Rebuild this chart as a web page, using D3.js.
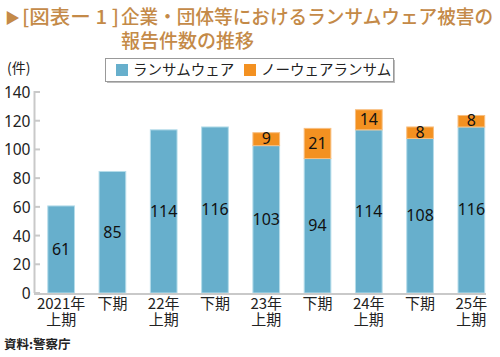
<!DOCTYPE html>
<html><head><meta charset="utf-8">
<script src="https://cdn.jsdelivr.net/npm/d3@7"></script>
<style>
body{margin:0;background:#fff;}
svg{display:block;font-family:"Noto Sans CJK JP","Noto Sans",sans-serif;}
</style></head>
<body><svg id="c" width="500" height="357"></svg>
<script>
const categories = [["2021年","上期"],["下期"],["22年","上期"],["下期"],["23年","上期"],["下期"],["24年","上期"],["下期"],["25年","上期"]];
const ransomware = [61,85,114,116,103,94,114,108,116];
const noware = [0,0,0,0,9,21,14,8,8];
const yTicks = [0,20,40,60,80,100,120,140];
const seriesNames = ["ランサムウェア","ノーウェアランサム"];
const colors = ["#67afcc","#f39121"];
const strokes = ["#b5dcea","#f8bf80"];

const svg = d3.select("#c");
const titleColor = "#c48a48";

// Title
svg.append("text").attr("x",5).attr("y",23).attr("fill",titleColor).attr("font-size",15).text("▶");
svg.append("text").attr("x",22).attr("y",24).attr("fill",titleColor).attr("font-size",19).attr("font-weight",500)
  .attr("textLength",97).attr("lengthAdjust","spacingAndGlyphs")
  .text("[図表ー 1 ]");
svg.append("text").attr("x",121).attr("y",24).attr("fill",titleColor).attr("font-size",19).attr("font-weight",500)
  .attr("textLength",372).attr("lengthAdjust","spacingAndGlyphs")
  .text("企業・団体等におけるランサムウェア被害の");
svg.append("text").attr("x",121).attr("y",48).attr("fill",titleColor).attr("font-size",19).attr("font-weight",500)
  .text("報告件数の推移");

const y = d3.scaleLinear().domain([0,140]).range([293,92]);
const x = d3.scaleBand().domain(d3.range(categories.length)).range([35.5,497]).paddingInner(0.46).paddingOuter(0.23);

// y axis
const yAxis = d3.axisLeft(y).tickValues(yTicks).tickSize(0).tickPadding(4);
const ga = svg.append("g").attr("transform","translate(34.5,0)").call(yAxis);
ga.select(".domain").remove();
ga.selectAll("text").attr("font-size",15.5).attr("fill","#222").attr("font-family","'Noto Sans',sans-serif").attr("dy","0.35em");
svg.append("line").attr("x1",34.5).attr("x2",34.5).attr("y1",y(140)-1).attr("y2",y(0)).attr("stroke","#c9c9c9").attr("stroke-width",2);
svg.selectAll(".tk").data(yTicks).enter().append("line")
  .attr("x1",34).attr("x2",40).attr("y1",d=>y(d)).attr("y2",d=>y(d)).attr("stroke","#c9c9c9").attr("stroke-width",2);

svg.append("text").attr("x",7).attr("y",73).attr("font-size",14).attr("fill","#222").text("(件)");

// bars
const g = svg.append("g");
categories.forEach((c,i)=>{
  const x0 = x(i), w = x.bandwidth();
  g.append("rect").attr("x",x0+0.5).attr("y",y(ransomware[i])+0.5).attr("width",w-1).attr("height",y(0)-y(ransomware[i])-0.5)
    .attr("fill",colors[0]).attr("stroke",strokes[0]).attr("stroke-width",1);
  if(noware[i]>0){
    const top = ransomware[i]+noware[i];
    g.append("rect").attr("x",x0+0.5).attr("y",y(top)+0.5).attr("width",w-1).attr("height",y(ransomware[i])-y(top))
      .attr("fill",colors[1]).attr("stroke",strokes[1]).attr("stroke-width",1);
    g.append("text").attr("x",x0+w/2).attr("y",(y(top)+y(ransomware[i]))/2).attr("dy","0.36em").attr("text-anchor","middle")
      .attr("font-size",16).attr("fill","#111").attr("font-family","'Noto Sans',sans-serif").text(noware[i]);
  }
  g.append("text").attr("x",x0+w/2).attr("y",(y(ransomware[i])+y(0))/2).attr("dy","0.36em").attr("text-anchor","middle")
    .attr("font-size",16).attr("fill","#111").attr("font-family","'Noto Sans',sans-serif").text(ransomware[i]);
  c.forEach((line,j)=>{
    svg.append("text").attr("text-anchor","middle").attr("font-size",15).attr("fill","#222")
      .attr("x",x0+w/2).attr("y",309+j*16).text(line);
  });
});

// baseline
svg.append("line").attr("x1",34).attr("x2",486).attr("y1",y(0)+1).attr("y2",y(0)+1).attr("stroke","#c9c9c9").attr("stroke-width",2);

// legend
svg.append("rect").attr("x",107).attr("y",60).attr("width",288).attr("height",23).attr("fill","#bdbdbd");
svg.append("rect").attr("x",105.5).attr("y",58.5).attr("width",288).attr("height",23).attr("fill","#fff").attr("stroke","#999").attr("stroke-width",1);
const lx = [116,244];
seriesNames.forEach((n,i)=>{
  svg.append("rect").attr("x",lx[i]).attr("y",64).attr("width",12).attr("height",12).attr("fill",colors[i]);
  svg.append("text").attr("x",lx[i]+17).attr("y",70).attr("dy","0.36em").attr("font-size",14.5).attr("fill","#222").text(n);
});

// source
svg.append("text").attr("x",4).attr("y",349).attr("font-size",12.5).attr("font-weight",700).attr("fill","#222").text("資料:警察庁");
</script></body></html>
